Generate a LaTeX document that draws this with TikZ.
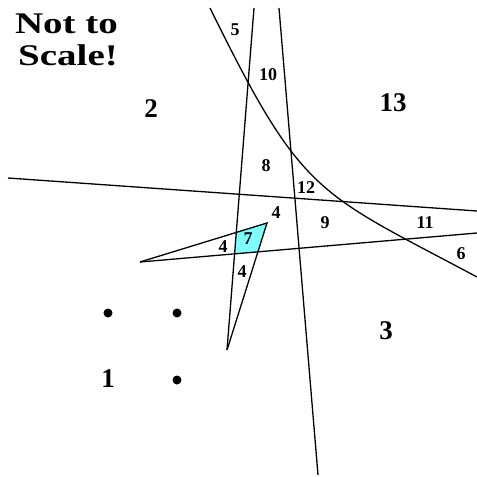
\documentclass[tikz,border=0pt]{standalone}
\usepackage{fontspec}
\setmainfont{Liberation Serif}
\definecolor{regioncyan}{RGB}{128,255,255}
\begin{document}
\begin{tikzpicture}[x=1pt,y=-1pt,
  edge/.style={line width=1.3pt,black},
  small/.style={font=\fontsize{18}{20}\selectfont\bfseries,inner sep=0pt},
  big/.style={font=\fontsize{27}{30}\selectfont\bfseries,inner sep=0pt},
  titletext/.style={font=\fontsize{30}{32}\selectfont\bfseries,inner sep=0pt,anchor=base},
  dot/.style={circle,fill=black,inner sep=0pt,minimum size=9pt}]
\useasboundingbox (0,0) rectangle (477,477);
% key points
\coordinate (a1) at (254,8);
\coordinate (a2) at (227,350);
\coordinate (b1) at (279,8);
\coordinate (b2) at (318,475);
\coordinate (c1) at (8,178);
\coordinate (c2) at (477,211);
\coordinate (d1) at (140,262);
\coordinate (d2) at (477,233);
\coordinate (t) at (267,223);
\coordinate (h1) at (210,8);
\coordinate (h2) at (477,277);
% cyan region 7
\fill[regioncyan] (intersection of a1--a2 and d1--t) -- (t)
  -- (intersection of t--a2 and d1--d2)
  -- (intersection of a1--a2 and d1--d2) -- cycle;
% lines
\draw[edge] (a1) -- (a2);
\draw[edge] (b1) -- (b2);
\draw[edge] (c1) -- (c2);
\draw[edge] (d1) -- (d2);
\draw[edge] (d1) -- (t) -- (a2);
\draw[edge] (h1) .. controls (303,197) and (316,191) .. (h2);
% dots
\node[dot] (p1) at (108,313) {};
\node[dot] (p2) at (177,313) {};
\node[dot] (p3) at (177,380) {};
% title
\node[titletext] (t1) at (66.5,33) {\scalebox{1.3}[1]{Not to}};
\node[titletext] (t2) at (68,65) {\scalebox{1.3}[1]{Scale!}};
% big labels
\node[big] (l2) at (151,109) {2};
\node[big] (l13) at (393,103) {13};
\node[big] (l3) at (386,331) {3};
\node[big] (l1) at (108,379) {1};
% small labels
\node[small] (l5) at (235,30) {5};
\node[small] (l10) at (268,75) {10};
\node[small] (l8) at (266,166) {8};
\node[small] (l12) at (306,188) {12};
\node[small] (l9) at (325,223) {9};
\node[small] (l11) at (425,223) {11};
\node[small] (l6) at (461,254) {6};
\node[small] (l4a) at (276,213) {4};
\node[small] (l4b) at (223,247) {4};
\node[small] (l7) at (248,239) {7};
\node[small] (l4c) at (242,272) {4};
\end{tikzpicture}
\end{document}
